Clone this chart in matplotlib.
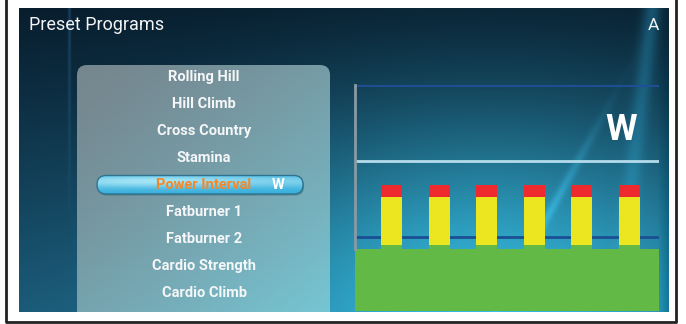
import matplotlib.pyplot as plt
import numpy as np
from matplotlib.patches import FancyBboxPatch
from matplotlib.transforms import Bbox, TransformedBbox

# program list
programs = ["Rolling Hill", "Hill Climb", "Cross Country", "Stamina",
            "Power Interval", "Fatburner 1", "Fatburner 2", "Cardio Strength",
            "Cardio Climb", "Cardio Interval"]
selected = "Power Interval"
unit = "W"

# power interval profile (percent of chart height)
intervals = [1, 2, 3, 4, 5, 6]
base_level = 27.4
work_base = [29.2, 29.2, 29.2, 29.2, 29.2, 29.2]
work_level = [50.4, 50.4, 50.4, 50.4, 50.4, 50.4]
peak_level = [55.8, 55.8, 55.8, 55.8, 55.8, 55.8]
low_line = 32.7
high_line = 66.4

fig = plt.figure(figsize=(6.86, 3.24), dpi=100)
fig.patch.set_facecolor("white")
ui = fig.add_axes([0, 0, 1, 1])
ui.set_xlim(0, 686)
ui.set_ylim(324, 0)
ui.axis("off")

# screen background
H, W = 304, 650
yy, xx = np.mgrid[0:H, 0:W]
yn = yy / H
top = np.array([8, 30, 46]) / 255
bot = np.array([26, 88, 118]) / 255
img = top + (bot - top) * yn[..., None] ** 1.1
blob = np.exp(-(((xx - 470) / 260.0) ** 2 + ((yy - 320) / 190.0) ** 2))
bright = np.array([55, 192, 228]) / 255
img = img + (bright - img) * blob[..., None] * 0.95
streak = np.exp(-((xx - 615 + (yy - 150) * 0.12) / 9.0) ** 2) * np.clip(1 - yn, 0, 1)
img = img + streak[..., None] * np.array([0.05, 0.18, 0.22])
diag = np.exp(-((xx - 560 + (yy - 150) * 0.55) / 5.0) ** 2) * np.exp(-((yy - 200) / 90.0) ** 2)
img = img + diag[..., None] * np.array([0.05, 0.12, 0.15])
edge = np.exp(-((xx - 50) / 1.5) ** 2) * np.clip(1 - 1.4 * yn, 0, 1)
img = img + edge[..., None] * np.array([0.06, 0.12, 0.18])
right = np.clip((xx - 638) / 12.0, 0, 1) * yn
img = img - right[..., None] * 0.12
img = np.clip(img, 0, 1)
ui.imshow(img, extent=[19, 669, 312, 8], aspect="auto", zorder=1)

# list panel
panel = FancyBboxPatch((77, 65), 253, 290, boxstyle="round,pad=0,rounding_size=10",
                       facecolor="none", edgecolor="none", zorder=2)
ui.add_patch(panel)
ph, pw = 250, 253
py, px = np.mgrid[0:ph, 0:pw]
c0 = np.array([118, 134, 142]) / 255
c1 = np.array([118, 198, 212]) / 255
t = np.clip(0.45 * px / pw + 0.55 * py / ph, 0, 1) ** 1.3
pimg = c0 + (c1 - c0) * t[..., None]
pim = ui.imshow(pimg, extent=[77, 330, 312, 65], aspect="auto", zorder=2)
pim.set_clip_path(panel)

# selection pill
pill = FancyBboxPatch((97, 175.5), 206, 18.5, boxstyle="round,pad=0,rounding_size=9",
                      facecolor="none", edgecolor="#2f7390", linewidth=1.0, zorder=4)
ui.add_patch(pill)
shadow = FancyBboxPatch((98, 177.5), 206, 18, boxstyle="round,pad=0,rounding_size=9",
                        facecolor="#2b5566", edgecolor="none", alpha=0.45, zorder=3)
ui.add_patch(shadow)
gy, gx = np.mgrid[0:20, 0:206]
g = np.exp(-((gy - 6) / 7.0) ** 2) * (0.6 + 0.4 * np.exp(-((gx - 60) / 80.0) ** 2))
lo = np.array([55, 175, 220]) / 255
hi = np.array([185, 238, 250]) / 255
pc = lo + (hi - lo) * g[..., None] * 0.85
gim = ui.imshow(np.clip(pc, 0, 1), extent=[97, 303, 194, 175.5], aspect="auto", zorder=3.5)
gim.set_clip_path(pill)

screen_box = TransformedBbox(Bbox.from_extents(19, 8, 669, 312), ui.transData)
for i, name in enumerate(programs):
    y = 77.5 + 26.9 * i
    color = "#f3882a" if name == selected else "#f4f6f7"
    tx = ui.text(204, y, name, ha="center", va="center", fontsize=10.5,
                 fontweight="bold", family="Roboto", color=color, zorder=5)
    tx.set_clip_box(screen_box)
    tx.set_clip_on(True)
    if name == selected:
        ui.text(278, y, unit, ha="center", va="center", fontsize=10.5,
                fontweight="bold", family="Roboto", color="white", zorder=5)

ui.text(29, 25.5, "Preset Programs", ha="left", va="center", fontsize=13,
        family="Roboto", color="#f2f4f5", zorder=5)
ui.text(653, 25.5, "A", ha="center", va="center", fontsize=12.5,
        family="Roboto", color="#f2f4f5", zorder=5)

# outer frame
ui.plot([6, 6, 676, 676], [0, 321.5, 321.5, 0], color="#222222", lw=2, zorder=6)

# profile chart
ax = fig.add_axes([355 / 686, 13 / 324, 304 / 686, 226 / 324])
ax.set_facecolor("none")
ax.set_xlim(1 - 36.5 / 47.6, 1 + 267.5 / 47.6)
ax.set_ylim(0, 100)
xl = ax.get_xlim()
ax.fill_between(xl, 0, base_level, color="#62b946", lw=0, zorder=2)
ax.axhline(low_line, color="#1b4f93", lw=2, zorder=1)
ax.axhline(high_line, color="#b5dcec", lw=2, zorder=1)
ax.axhline(100, color="#1f4f98", lw=2, zorder=1)
w = 0.44
ax.bar(intervals, work_base, width=w, color="#62b946", lw=0, zorder=3)
ax.bar(intervals, np.subtract(work_level, work_base), bottom=work_base,
       width=w, color="#ece620", lw=0, zorder=3)
ax.bar(intervals, np.subtract(peak_level, work_level), bottom=work_level,
       width=w, color="#ee2a2f", lw=0, zorder=3)
ax.text(0.875, 0.8, unit, transform=ax.transAxes, ha="center", va="center",
        fontsize=26, fontweight="bold", family="Roboto", color="white")
for s in ["top", "right", "bottom"]:
    ax.spines[s].set_visible(False)
ax.spines["left"].set_color("#8a9aa3")
ax.spines["left"].set_linewidth(2)
ax.spines["left"].set_bounds(base_level, 100)
ax.set_xticks([])
ax.set_yticks([])

fig.savefig("out.png", dpi=100)
